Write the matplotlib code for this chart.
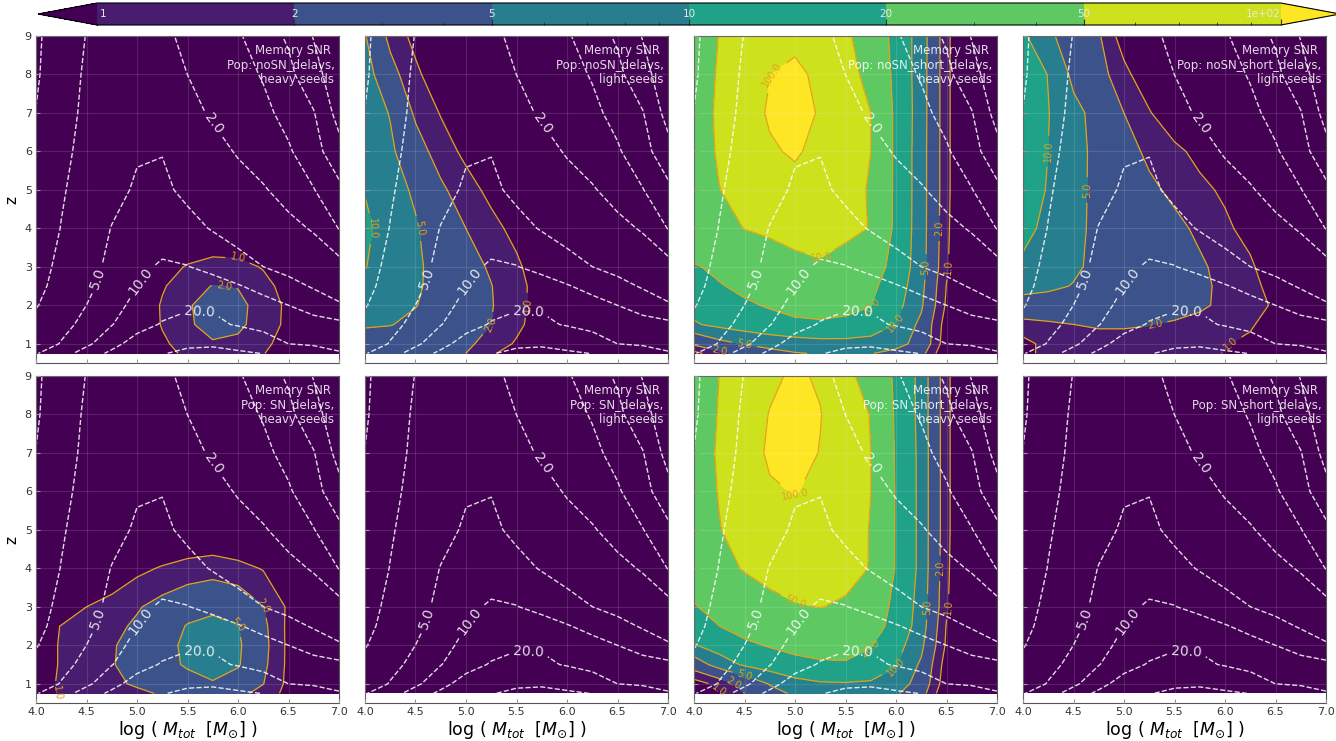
import numpy as np
import matplotlib
matplotlib.use('Agg')
import matplotlib.pyplot as plt

# grid of the maps: log10 of total mass (columns) and redshift (rows)
log_mtot = [4.0, 4.25, 4.5, 4.75, 5.0, 5.25, 5.5, 5.75, 6.0, 6.25, 6.5, 6.75, 7.0]
redshift = [0.75, 1.0, 1.5, 2.0, 2.5, 3.0, 4.0, 5.0, 6.0, 7.0, 8.0, 9.0]

# contour levels
snr_levels = [1, 2, 5, 10, 20, 50, 100]
snr_ticklabels = ['1', '2', '5', '10', '20', '50', '1e+02']
ref_levels = [0.2, 0.5, 1, 2, 5, 10, 20, 50]
ref_label_pos = [(5.72, 6.65), (4.58, 2.72), (5.04, 2.62), (5.62, 1.8)]

# log10 of the reference SNR (white dashed lines), same in every panel
log_snr_ref = [
    [0.68, 0.88, 1.13, 1.37, 1.52, 1.68, 1.78, 1.80, 1.76, 1.69, 1.55, 1.43, 1.32],
    [0.50, 0.72, 0.94, 1.19, 1.45, 1.56, 1.63, 1.65, 1.56, 1.42, 1.30, 1.27, 1.24],
    [0.39, 0.60, 0.79, 0.99, 1.17, 1.33, 1.39, 1.35, 1.28, 1.23, 1.18, 1.13, 1.08],
    [0.28, 0.49, 0.70, 0.90, 1.08, 1.17, 1.26, 1.27, 1.20, 1.10, 1.00, 0.86, 0.73],
    [0.21, 0.42, 0.63, 0.82, 1.00, 1.10, 1.16, 1.13, 1.02, 0.91, 0.79, 0.67, 0.57],
    [0.17, 0.38, 0.59, 0.77, 0.93, 1.04, 1.01, 0.91, 0.81, 0.70, 0.61, 0.51, 0.42],
    [0.11, 0.31, 0.51, 0.71, 0.82, 0.84, 0.78, 0.68, 0.58, 0.48, 0.39, 0.27, -0.01],
    [0.09, 0.27, 0.43, 0.60, 0.74, 0.75, 0.64, 0.54, 0.44, 0.33, 0.18, 0.01, -0.21],
    [0.03, 0.22, 0.40, 0.56, 0.67, 0.69, 0.57, 0.42, 0.27, 0.15, 0.03, -0.16, -0.55],
    [0.005, 0.19, 0.36, 0.50, 0.57, 0.52, 0.40, 0.26, 0.16, 0.06, -0.08, -0.28, -0.85],
    [-0.03, 0.16, 0.34, 0.47, 0.52, 0.44, 0.30, 0.20, 0.09, -0.02, -0.21, -0.56, -0.95],
    [-0.04, 0.13, 0.31, 0.44, 0.48, 0.35, 0.25, 0.14, 0.03, -0.14, -0.35, -0.72, -1.00],
]

# log10 of the memory SNR, one map per population
mem_nosn_delays_heavy = [
    [-0.6, -0.6, -0.6, -0.6, -0.53, -0.15, 0.09, 0.20, 0.17, 0.02, -0.27, -0.6, -0.6],
    [-0.6, -0.6, -0.6, -0.6, -0.44, -0.07, 0.17, 0.28, 0.25, 0.10, -0.19, -0.6, -0.6],
    [-0.6, -0.6, -0.6, -0.6, -0.35, 0.03, 0.27, 0.38, 0.35, 0.20, -0.09, -0.51, -0.6],
    [-0.6, -0.6, -0.6, -0.6, -0.33, 0.04, 0.28, 0.39, 0.36, 0.21, -0.08, -0.50, -0.6],
    [-0.6, -0.6, -0.6, -0.6, -0.41, -0.04, 0.21, 0.31, 0.29, 0.13, -0.16, -0.58, -0.6],
    [-0.6, -0.6, -0.6, -0.6, -0.57, -0.20, 0.04, 0.15, 0.13, -0.03, -0.32, -0.6, -0.6],
    [-0.6, -0.6, -0.6, -0.6, -0.6, -0.6, -0.54, -0.43, -0.45, -0.6, -0.6, -0.6, -0.6],
    [-0.6, -0.6, -0.6, -0.6, -0.6, -0.6, -0.6, -0.6, -0.6, -0.6, -0.6, -0.6, -0.6],
    [-0.6, -0.6, -0.6, -0.6, -0.6, -0.6, -0.6, -0.6, -0.6, -0.6, -0.6, -0.6, -0.6],
    [-0.6, -0.6, -0.6, -0.6, -0.6, -0.6, -0.6, -0.6, -0.6, -0.6, -0.6, -0.6, -0.6],
    [-0.6, -0.6, -0.6, -0.6, -0.6, -0.6, -0.6, -0.6, -0.6, -0.6, -0.6, -0.6, -0.6],
    [-0.6, -0.6, -0.6, -0.6, -0.6, -0.6, -0.6, -0.6, -0.6, -0.6, -0.6, -0.6, -0.6],
]

mem_nosn_delays_light = [
    [0.48, 0.45, 0.41, 0.36, 0.30, 0.05, -0.20, -0.45, -0.65, -0.70, -0.70, -0.70, -0.70],
    [0.56, 0.53, 0.49, 0.43, 0.36, 0.19, -0.04, -0.30, -0.55, -0.70, -0.70, -0.70, -0.70],
    [0.73, 0.71, 0.63, 0.52, 0.41, 0.30, 0.09, -0.20, -0.45, -0.65, -0.70, -0.70, -0.70],
    [0.85, 0.78, 0.71, 0.58, 0.45, 0.32, 0.11, -0.15, -0.40, -0.60, -0.70, -0.70, -0.70],
    [0.95, 0.85, 0.74, 0.60, 0.46, 0.31, 0.11, -0.15, -0.40, -0.60, -0.70, -0.70, -0.70],
    [1.01, 0.87, 0.75, 0.59, 0.43, 0.26, 0.06, -0.20, -0.45, -0.65, -0.70, -0.70, -0.70],
    [1.05, 0.89, 0.73, 0.52, 0.30, 0.10, -0.10, -0.35, -0.60, -0.70, -0.70, -0.70, -0.70],
    [0.99, 0.83, 0.65, 0.36, 0.13, -0.09, -0.35, -0.60, -0.70, -0.70, -0.70, -0.70, -0.70],
    [0.95, 0.76, 0.45, 0.16, -0.08, -0.35, -0.60, -0.70, -0.70, -0.70, -0.70, -0.70, -0.70],
    [0.90, 0.68, 0.25, -0.02, -0.30, -0.55, -0.70, -0.70, -0.70, -0.70, -0.70, -0.70, -0.70],
    [0.85, 0.43, 0.07, -0.22, -0.45, -0.65, -0.70, -0.70, -0.70, -0.70, -0.70, -0.70, -0.70],
    [0.72, 0.21, -0.10, -0.40, -0.60, -0.70, -0.70, -0.70, -0.70, -0.70, -0.70, -0.70, -0.70],
]

mem_nosn_short_heavy = [
    [-0.10, 0.20, 0.45, 0.60, 0.68, 0.72, 0.73, 0.71, 0.62, 0.42, -0.30, -0.65, -0.8],
    [0.37, 0.60, 0.72, 0.80, 0.86, 0.90, 0.90, 0.87, 0.79, 0.60, -0.20, -0.60, -0.8],
    [0.97, 1.07, 1.15, 1.22, 1.27, 1.28, 1.27, 1.20, 0.99, 0.62, -0.15, -0.60, -0.8],
    [1.10, 1.18, 1.27, 1.32, 1.35, 1.36, 1.34, 1.31, 1.10, 0.75, -0.05, -0.60, -0.8],
    [1.20, 1.285, 1.35, 1.41, 1.46, 1.50, 1.45, 1.36, 1.16, 0.80, -0.01, -0.60, -0.8],
    [1.28, 1.35, 1.43, 1.52, 1.60, 1.66, 1.60, 1.45, 1.20, 0.85, 0.05, -0.60, -0.8],
    [1.50, 1.60, 1.705, 1.76, 1.83, 1.83, 1.76, 1.69, 1.23, 0.86, 0.08, -0.60, -0.8],
    [1.58, 1.695, 1.77, 1.85, 1.92, 1.86, 1.78, 1.68, 1.24, 0.86, 0.10, -0.60, -0.8],
    [1.60, 1.72, 1.85, 1.97, 2.03, 1.93, 1.81, 1.70, 1.24, 0.86, 0.10, -0.60, -0.8],
    [1.60, 1.73, 1.88, 2.03, 2.13, 1.97, 1.83, 1.70, 1.24, 0.87, 0.10, -0.60, -0.8],
    [1.58, 1.72, 1.86, 1.995, 2.06, 1.94, 1.81, 1.61, 1.22, 0.87, 0.10, -0.60, -0.8],
    [1.55, 1.705, 1.78, 1.87, 1.93, 1.83, 1.75, 1.54, 1.20, 0.88, 0.10, -0.60, -0.8],
]

mem_nosn_short_light = [
    [-0.05, 0.05, 0.12, 0.15, 0.15, 0.13, 0.10, 0.06, -0.01, -0.15, -0.50, -0.65, -0.70],
    [-0.10, 0.10, 0.18, 0.20, 0.20, 0.18, 0.15, 0.10, 0.03, -0.10, -0.45, -0.65, -0.70],
    [0.18, 0.24, 0.30, 0.33, 0.33, 0.31, 0.27, 0.23, 0.16, 0.06, -0.25, -0.60, -0.70],
    [0.60, 0.60, 0.58, 0.55, 0.52, 0.47, 0.41, 0.34, 0.25, 0.13, -0.05, -0.50, -0.70],
    [0.78, 0.74, 0.69, 0.63, 0.57, 0.50, 0.43, 0.35, 0.25, 0.12, -0.15, -0.55, -0.70],
    [0.95, 0.84, 0.73, 0.65, 0.58, 0.50, 0.42, 0.34, 0.22, 0.07, -0.30, -0.60, -0.70],
    [1.08, 0.93, 0.76, 0.64, 0.55, 0.46, 0.37, 0.25, 0.08, -0.15, -0.50, -0.70, -0.70],
    [1.15, 0.98, 0.78, 0.63, 0.50, 0.36, 0.24, 0.10, -0.07, -0.40, -0.65, -0.70, -0.70],
    [1.22, 1.00, 0.81, 0.61, 0.42, 0.24, 0.10, -0.12, -0.45, -0.70, -0.70, -0.70, -0.70],
    [1.25, 1.01, 0.78, 0.60, 0.30, 0.03, -0.30, -0.55, -0.70, -0.70, -0.70, -0.70, -0.70],
    [1.20, 0.99, 0.63, 0.43, 0.10, -0.25, -0.50, -0.70, -0.70, -0.70, -0.70, -0.70, -0.70],
    [1.05, 0.76, 0.54, 0.34, -0.17, -0.50, -0.70, -0.70, -0.70, -0.70, -0.70, -0.70, -0.70],
]

mem_sn_delays_heavy = [
    [-0.10, 0.02, 0.08, 0.15, 0.24, 0.33, 0.45, 0.55, 0.40, 0.18, -0.10, -0.50, -0.60],
    [-0.10, 0.03, 0.12, 0.24, 0.34, 0.45, 0.57, 0.67, 0.55, 0.31, -0.08, -0.50, -0.60],
    [-0.12, 0.02, 0.15, 0.28, 0.43, 0.59, 0.74, 0.84, 0.73, 0.38, -0.07, -0.50, -0.60],
    [-0.12, 0.02, 0.145, 0.27, 0.43, 0.60, 0.76, 0.88, 0.75, 0.41, -0.07, -0.50, -0.60],
    [-0.15, 0.01, 0.11, 0.22, 0.35, 0.52, 0.72, 0.80, 0.71, 0.38, -0.07, -0.50, -0.60],
    [-0.40, -0.20, 0.00, 0.12, 0.27, 0.42, 0.55, 0.62, 0.55, 0.31, -0.05, -0.50, -0.60],
    [-0.70, -0.60, -0.45, -0.25, -0.08, 0.03, 0.12, 0.17, 0.10, -0.02, -0.30, -0.60, -0.70],
    [-0.80, -0.75, -0.70, -0.60, -0.50, -0.40, -0.35, -0.33, -0.38, -0.50, -0.60, -0.70, -0.80],
    [-0.80, -0.80, -0.80, -0.80, -0.80, -0.80, -0.80, -0.80, -0.80, -0.80, -0.80, -0.80, -0.80],
    [-0.80, -0.80, -0.80, -0.80, -0.80, -0.80, -0.80, -0.80, -0.80, -0.80, -0.80, -0.80, -0.80],
    [-0.80, -0.80, -0.80, -0.80, -0.80, -0.80, -0.80, -0.80, -0.80, -0.80, -0.80, -0.80, -0.80],
    [-0.80, -0.80, -0.80, -0.80, -0.80, -0.80, -0.80, -0.80, -0.80, -0.80, -0.80, -0.80, -0.80],
]

mem_sn_delays_light = [
    [-1.0, -1.0, -1.0, -1.0, -1.0, -1.0, -1.0, -1.0, -1.0, -1.0, -1.0, -1.0, -1.0],
    [-1.0, -1.0, -1.0, -1.0, -1.0, -1.0, -1.0, -1.0, -1.0, -1.0, -1.0, -1.0, -1.0],
    [-1.0, -1.0, -1.0, -1.0, -1.0, -1.0, -1.0, -1.0, -1.0, -1.0, -1.0, -1.0, -1.0],
    [-1.0, -1.0, -1.0, -1.0, -1.0, -1.0, -1.0, -1.0, -1.0, -1.0, -1.0, -1.0, -1.0],
    [-1.0, -1.0, -1.0, -1.0, -1.0, -1.0, -1.0, -1.0, -1.0, -1.0, -1.0, -1.0, -1.0],
    [-1.0, -1.0, -1.0, -1.0, -1.0, -1.0, -1.0, -1.0, -1.0, -1.0, -1.0, -1.0, -1.0],
    [-1.0, -1.0, -1.0, -1.0, -1.0, -1.0, -1.0, -1.0, -1.0, -1.0, -1.0, -1.0, -1.0],
    [-1.0, -1.0, -1.0, -1.0, -1.0, -1.0, -1.0, -1.0, -1.0, -1.0, -1.0, -1.0, -1.0],
    [-1.0, -1.0, -1.0, -1.0, -1.0, -1.0, -1.0, -1.0, -1.0, -1.0, -1.0, -1.0, -1.0],
    [-1.0, -1.0, -1.0, -1.0, -1.0, -1.0, -1.0, -1.0, -1.0, -1.0, -1.0, -1.0, -1.0],
    [-1.0, -1.0, -1.0, -1.0, -1.0, -1.0, -1.0, -1.0, -1.0, -1.0, -1.0, -1.0, -1.0],
    [-1.0, -1.0, -1.0, -1.0, -1.0, -1.0, -1.0, -1.0, -1.0, -1.0, -1.0, -1.0, -1.0],
]

mem_sn_short_heavy = [
    [-0.30, -0.05, 0.30, 0.58, 0.75, 0.82, 0.84, 0.82, 0.74, 0.45, -0.30, -0.65, -0.8],
    [-0.15, 0.10, 0.45, 0.72, 0.90, 0.97, 0.98, 0.96, 0.88, 0.55, -0.20, -0.60, -0.8],
    [0.50, 0.85, 1.04, 1.15, 1.23, 1.27, 1.28, 1.21, 1.02, 0.65, -0.15, -0.60, -0.8],
    [0.98, 1.13, 1.25, 1.32, 1.37, 1.39, 1.38, 1.32, 1.12, 0.78, -0.05, -0.60, -0.8],
    [1.15, 1.30, 1.40, 1.47, 1.52, 1.54, 1.52, 1.43, 1.20, 0.88, -0.02, -0.60, -0.8],
    [1.28, 1.40, 1.52, 1.62, 1.68, 1.705, 1.67, 1.50, 1.22, 0.90, 0.05, -0.60, -0.8],
    [1.45, 1.60, 1.72, 1.79, 1.83, 1.82, 1.77, 1.69, 1.28, 0.93, 0.08, -0.60, -0.8],
    [1.55, 1.69, 1.79, 1.86, 1.90, 1.87, 1.79, 1.69, 1.28, 0.93, 0.10, -0.60, -0.8],
    [1.58, 1.71, 1.85, 1.97, 2.01, 1.95, 1.82, 1.70, 1.28, 0.93, 0.10, -0.60, -0.8],
    [1.60, 1.72, 1.87, 2.04, 2.10, 1.99, 1.83, 1.70, 1.27, 0.93, 0.10, -0.60, -0.8],
    [1.58, 1.71, 1.86, 2.01, 2.10, 2.01, 1.82, 1.69, 1.26, 0.92, 0.10, -0.60, -0.8],
    [1.55, 1.70, 1.82, 1.95, 2.04, 1.97, 1.79, 1.56, 1.25, 0.92, 0.10, -0.60, -0.8],
]

mem_sn_short_light = [
    [-1.0, -1.0, -1.0, -1.0, -1.0, -1.0, -1.0, -1.0, -1.0, -1.0, -1.0, -1.0, -1.0],
    [-1.0, -1.0, -1.0, -1.0, -1.0, -1.0, -1.0, -1.0, -1.0, -1.0, -1.0, -1.0, -1.0],
    [-1.0, -1.0, -1.0, -1.0, -1.0, -1.0, -1.0, -1.0, -1.0, -1.0, -1.0, -1.0, -1.0],
    [-1.0, -1.0, -1.0, -1.0, -1.0, -1.0, -1.0, -1.0, -1.0, -1.0, -1.0, -1.0, -1.0],
    [-1.0, -1.0, -1.0, -1.0, -1.0, -1.0, -1.0, -1.0, -1.0, -1.0, -1.0, -1.0, -1.0],
    [-1.0, -1.0, -1.0, -1.0, -1.0, -1.0, -1.0, -1.0, -1.0, -1.0, -1.0, -1.0, -1.0],
    [-1.0, -1.0, -1.0, -1.0, -1.0, -1.0, -1.0, -1.0, -1.0, -1.0, -1.0, -1.0, -1.0],
    [-1.0, -1.0, -1.0, -1.0, -1.0, -1.0, -1.0, -1.0, -1.0, -1.0, -1.0, -1.0, -1.0],
    [-1.0, -1.0, -1.0, -1.0, -1.0, -1.0, -1.0, -1.0, -1.0, -1.0, -1.0, -1.0, -1.0],
    [-1.0, -1.0, -1.0, -1.0, -1.0, -1.0, -1.0, -1.0, -1.0, -1.0, -1.0, -1.0, -1.0],
    [-1.0, -1.0, -1.0, -1.0, -1.0, -1.0, -1.0, -1.0, -1.0, -1.0, -1.0, -1.0, -1.0],
    [-1.0, -1.0, -1.0, -1.0, -1.0, -1.0, -1.0, -1.0, -1.0, -1.0, -1.0, -1.0, -1.0],
]

pops = ['noSN_delays', 'noSN_delays', 'noSN_short_delays', 'noSN_short_delays',
        'SN_delays', 'SN_delays', 'SN_short_delays', 'SN_short_delays']
seeds = ['heavy', 'light', 'heavy', 'light', 'heavy', 'light', 'heavy', 'light']
maps = [mem_nosn_delays_heavy, mem_nosn_delays_light, mem_nosn_short_heavy, mem_nosn_short_light,
        mem_sn_delays_heavy, mem_sn_delays_light, mem_sn_short_heavy, mem_sn_short_light]

X, Z = np.meshgrid(log_mtot, redshift)
W = np.array(log_snr_ref)
lev = np.log10(snr_levels)
ref_lev = np.log10(ref_levels)
fmt = lambda v: '%.1f' % 10**v

fig = plt.figure(figsize=(13.36, 7.41), dpi=100)
W_PX, H_PX = 1336, 741
lefts = [36, 365, 694, 1023]
bottoms = [363, 703]
orange = '#e3a21a'

for i in range(8):
    row, col = divmod(i, 4)
    ax = fig.add_axes([lefts[col] / W_PX, 1 - bottoms[row] / H_PX, 303 / W_PX, 327 / H_PX])
    ax.set_xlim(4.0, 7.0)
    ax.set_ylim(0.5, 9.0)
    L = np.array(maps[i])
    cf = ax.contourf(X, Z, L, levels=lev, cmap='viridis', vmin=0, vmax=2, extend='both')
    inside = [l for l in lev if L.min() < l < L.max()]
    if inside:
        cs = ax.contour(X, Z, L, levels=inside, colors=orange, linewidths=0.9)
        ax.clabel(cs, fmt=fmt, fontsize=7, inline=True)
    ws = ax.contour(X, Z, W, levels=ref_lev, colors='white', linewidths=1.0,
                    linestyles='dashed', alpha=0.85)
    ax.clabel(ws, fmt=fmt, fontsize=10, inline=True, manual=ref_label_pos)

    ax.text(0.985, 0.975, 'Memory SNR \nPop: %s,\n%s seeds' % (pops[i], seeds[i]),
            transform=ax.transAxes, ha='right', va='top', color='white', alpha=0.85,
            fontsize=8.5, linespacing=1.15, zorder=5)

    ax.set_xticks(np.arange(4.0, 7.01, 0.5))
    ax.set_yticks(range(1, 10))
    ax.grid(True, color='white', alpha=0.12, linewidth=0.8)
    ax.set_axisbelow(False)
    ax.tick_params(direction='in', length=3, color='#999999', labelsize=8, labelcolor='#333333',
                   labelbottom=(row == 1), labelleft=(col == 0), pad=3)
    for s in ax.spines.values():
        s.set_color('#555555')
        s.set_linewidth(0.8)
    if col == 0:
        ax.set_ylabel('z', fontsize=11)
    if row == 1:
        ax.set_xlabel(r'log ( $M_{tot}$  [$M_{\odot}$] )', fontsize=12.5, labelpad=1)

# colour bar on top (the axes box includes the two end triangles)
cax = fig.add_axes([38 / W_PX, 1 - 25 / H_PX, 1302 / W_PX, 22 / H_PX])
cb = fig.colorbar(cf, cax=cax, orientation='horizontal')
cb.set_ticks(lev)
cb.set_ticks(np.log10([3, 4, 6, 7, 8, 9, 30, 40, 60, 70, 80, 90]), minor=True)
cb.ax.tick_params(which='both', direction='in', color='#333333', labelbottom=False)
cb.ax.tick_params(which='major', length=4)
cb.ax.tick_params(which='minor', length=2)
cb.outline.set_linewidth(0.8)
n = len(snr_ticklabels) - 1
for k, lab in enumerate(snr_ticklabels):
    ha = 'left' if k == 0 else ('right' if k == n else 'center')
    cax.text(k / n + (0.002 if k == 0 else 0), 0.5, lab, transform=cax.transAxes,
             ha=ha, va='center', color='#e8e8e8', fontsize=7.5)

fig.savefig('out.png', dpi=100)
